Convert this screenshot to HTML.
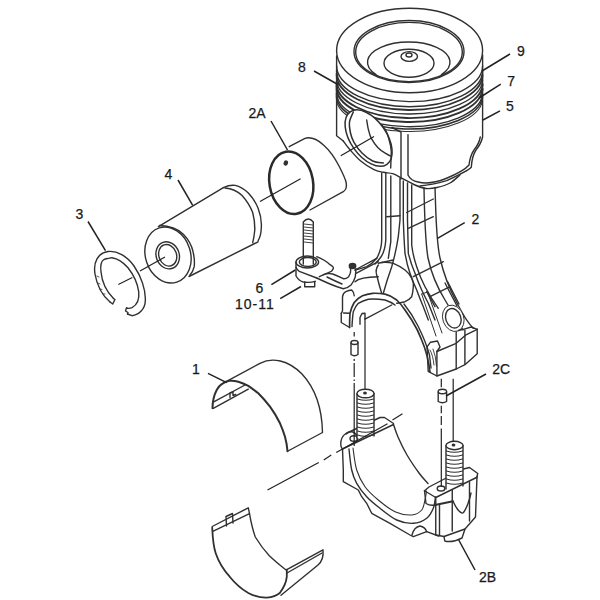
<!DOCTYPE html>
<html><head><meta charset="utf-8">
<style>
html,body{margin:0;padding:0;background:#fff;width:600px;height:600px;overflow:hidden}
svg{display:block}
text{font-family:"Liberation Sans",sans-serif;font-size:14px;fill:#1a1a1a;stroke:#1a1a1a;stroke-width:0.25px}
</style></head><body>
<svg width="600" height="600" viewBox="0 0 600 600">
<g fill="none" stroke="#303030" stroke-width="1.4" stroke-linecap="round" stroke-linejoin="round">
<!-- PISTON crown -->
<ellipse cx="409.6" cy="50.5" rx="73" ry="42.2"/>
<ellipse cx="409" cy="51.5" rx="55" ry="31"/>
<ellipse cx="409" cy="52" rx="53.3" ry="29.6"/>
<path d="M376 74.6 A41.25 20.3 0 1 1 441.5 74.6"/>
<ellipse cx="409" cy="63.3" rx="25" ry="14"/>
<ellipse cx="409.25" cy="56.5" rx="8.25" ry="4.9"/>
<ellipse cx="409" cy="55" rx="3" ry="2"/>
<!-- crown bottom + grooves -->
<path d="M336.6 65.6 A73 35.8 0 0 0 482.6 66" stroke-width="1.4"/>
<path d="M336.6 70.7 A73 36.0 0 0 0 482.6 70.7" stroke-width="1.5"/>
<path d="M336.6 74 A73 35.5 0 0 0 482.6 75" stroke-width="1.8"/>
<path d="M336.6 78 A73 35.0 0 0 0 482.6 80" stroke-width="1.3"/>
<path d="M336.6 82 A73 34.8 0 0 0 482.6 84.5" stroke-width="1.9"/>
<path d="M336.6 86 A73 34.5 0 0 0 482.6 89" stroke-width="1.9"/>
<path d="M336.6 90.7 A73 34.2 0 0 0 482.6 94.2" stroke-width="1.4"/>
<path d="M336.6 93 A73 34.0 0 0 0 482.6 97" stroke-width="1.6"/>
<path d="M336.6 96 A73 33.5 0 0 0 482.6 100" stroke-width="1.1"/>
<!-- piston sides -->
<path d="M482.6 55 V137 Q481 144 476 150 Q472 156 471.3 167.3 Q468 171 446.7 180.7 Q432 185 420 186"/>
<path d="M408 134.7 V175 Q411 181 418 182 Q430 185 446 178.5 Q464 171 469 165 Q470 156 474 150 Q479 144 480.3 137"/>
<!-- pin bore -->
<ellipse cx="368.6" cy="138.1" rx="18" ry="32" transform="rotate(-35 368.6 138.1)" stroke-width="1.5" fill="#fff"/>
<path d="M353.3 112.0 C352.7 113.7 350.0 118.5 349.5 122.0 C349.0 125.5 349.8 129.6 350.5 133.0 C351.2 136.4 352.1 139.0 354.0 142.3 C355.9 145.6 358.9 149.9 362.0 153.0 C365.1 156.1 369.1 159.3 372.7 161.0 C376.2 162.7 381.5 162.7 383.3 163.0" stroke-width="1.5"/>
<path d="M366.7 120.0 C367.0 121.7 367.7 127.0 368.5 130.0 C369.3 133.1 369.7 135.4 371.3 138.3 C372.9 141.2 375.6 145.1 378.0 147.7 C380.4 150.3 383.8 152.3 386.0 153.7 C388.2 155.1 390.4 155.9 391.3 156.3"/>
<!-- boss outline -->
<path d="M336.6 56 V135.7 L343.3 141"/>
<path d="M343.3 141.0 C344.4 142.4 347.1 146.4 350.0 149.7 C352.9 153.0 356.7 157.7 360.7 161.0 C364.7 164.3 370.2 167.8 374.0 169.7 C377.8 171.6 380.2 171.6 383.3 172.3 C386.4 173.0 389.6 172.7 392.7 173.7 C395.8 174.7 398.3 176.4 402.0 178.3 C405.7 180.2 411.0 183.3 415.0 185.0 C419.0 186.7 422.3 188.1 426.0 188.5 C429.7 188.9 433.0 188.4 437.0 187.5 C441.0 186.6 446.2 185.1 450.0 183.0 C453.8 180.9 458.3 176.3 460.0 175.0"/>
<path d="M382 125 Q387 131 388.7 138.3 Q391 146 391.3 151.7 L390.7 168"/>
<path d="M392 127.5 L401 132 V179"/>
</g>

<g stroke="#222" stroke-width="1.5">
<line x1="314" y1="71" x2="338.75" y2="85"/>
<line x1="510" y1="54" x2="482" y2="71"/>
<line x1="500.8" y1="84.2" x2="479" y2="98"/>
<line x1="500" y1="110.8" x2="483" y2="120"/>
</g>

<g fill="none" stroke="#303030" stroke-width="1.4" stroke-linecap="round" stroke-linejoin="round">
<!-- ROD SHANK -->
<path d="M381.7 173 V240 Q381.5 250 376.7 258.3 Q372 264 366.7 266.7 Q360 269 355 270"/>
<path d="M385.8 173 V240 Q385 252 380 258.3 Q377 262 375 264"/>
<path d="M390.8 176 V241.7 L388.3 258.3"/>
<path d="M378.3 263.3 L393.3 260"/>
<path d="M400 178.5 V220 Q399 230 398.3 236.7 Q396 252 391.7 266.7 Q387 280 383.3 293.3"/>
<path d="M378.3 265 Q375 270 376.7 275 Q379 285 381.7 293.3"/>
<path d="M381.7 262.5 Q388 262 393.3 263.3 Q400 266 405 270 Q410 274 411.7 278.3 Q414 283 413.3 286.7 Q413 292 411.7 296.7 Q409 300 405 301.7 Q400 303 396.7 303.3"/>
<path d="M403.3 181 V220 Q404 240 405 253.3 Q407 265 410 273.3 Q413 282 416.7 290 Q420 299 423.3 306.7 L428.3 320"/>
<path d="M407.5 183 V220 Q408 240 408.3 253.3 Q411 264 415 273.3 Q418 282 421.7 290 Q425 297 428.3 303.3 L435 320"/>
<path d="M411.7 185 V245 Q413 256 416.7 266.7 Q420 277 425 286.7 Q431 298 438.3 308.3"/>
<path d="M424 188 C424.5 215 425 240 428 258 C431 272 437 287 445 300 C451 310 457 320 463 330"/>
<path d="M435 187.5 C436 215 436 240 440 258 C444 276 450 290 457 303 C462 313 467 322 473.3 328.3"/>
<path d="M386.7 216.7 L400 215.8"/>
<path d="M406.7 212.5 L433.3 199"/>
<path d="M408.3 228.3 L433.3 216.7"/>
<path d="M413.3 276.7 L443.3 261.7"/>
<path d="M430 296.7 L450 286.7"/>
<path d="M426.7 291.7 L435 306.7"/>
<path d="M445 283 L457 306 M447.5 281.5 L459 304"/>
<path d="M421.7 294 L427.5 292 L442 333 M421.7 294 L436 336" stroke-width="1"/>
<ellipse cx="453.3" cy="318.3" rx="10.5" ry="13.5" transform="rotate(-20 453.3 318.3)" stroke-width="0.9" fill="#fff"/>
<ellipse cx="453.3" cy="318.3" rx="7.5" ry="10" transform="rotate(-20 453.3 318.3)"/>
<path d="M355 281.7 Q360 277 378.3 276.7"/>
<path d="M355 270 L376.7 258.3 M356 273.3 L378.3 261.7"/>
<!-- BIG END upper -->
<path d="M349.6 327.5 Q349.5 320 350 313.3 Q351.5 307 354.2 302.5 Q358 298 362.5 295.8 Q367 294 372.5 293.3 Q379 293 385 294.2 Q391 295.5 396.7 300 Q401 304 405 310 Q409 316 411.7 320 Q418 330 421.7 340 Q428 355 430 372" stroke-width="1.7"/>
<path d="M352 326.5 Q352.5 317 353.3 311.7 Q355.5 306 358.3 303.3 Q363 300.5 368.3 299.2 Q376 298.5 385 300 Q391 302 395 305"/>
<path d="M360 324.2 V317.5 L362 313.5 L365 313.3 V319.2 L391.7 305"/>
<path d="M341.25 313.3 V322.5 L349.6 327.5"/>
<path d="M341.25 313.3 L342.5 311 V297 Q343 293 345.8 291.7 Q349 290 351.7 290 Q354 292 354.2 295.8"/>
<path d="M343.5 313 L349.5 313.3"/>
<!-- right foot -->
<path d="M404 304 Q412 314 418 326 Q426 342 429.5 355 L431 368"/>
<path d="M436.9 351.5 V376 L456.2 369 L465.5 364.3 L477.2 353.8 V329.3"/>
<path d="M436.9 351.5 L456.2 343.3 L465.5 335.2 L477.2 329.3"/>
<path d="M456.2 332 V369 M464.9 330 V364.3"/>
<path d="M458.5 330.5 L463.2 329.3 L471.3 327 L477.2 329.3"/>
<path d="M427 346.8 L428.2 371.3 L436.9 376"/>
<path d="M427 346.8 L430.5 342.2 L437.5 341 L440 347 L436.9 351.5"/>
<path d="M430 350 Q433 355 434 365 M433 349 Q436 356 436.5 366" stroke-width="0.9"/>
<!-- dowels -->
<path d="M351 343 V354.5 Q354.5 357 358 354.5 V343"/><ellipse cx="354.5" cy="342.5" rx="3.5" ry="2"/>
<path d="M438.2 392 V401.5 Q442.4 404 446.6 401.5 V392"/><ellipse cx="442.4" cy="391.5" rx="4.2" ry="2.2"/>
<!-- CAP -->
<path d="M342.5 449 Q340 446 341 441 Q342 436 346 433.5 L380 417.5 L384.5 417.5 L393.5 423.5"/>
<path d="M346 434 Q349 431 353 432 Q357 434 358 438"/>
<ellipse cx="353.8" cy="438.5" rx="3.8" ry="2.8"/>
<path d="M342.5 449 L343.3 470 L343.3 481.7 L358.3 490 L361.7 496.7 L366.7 503.3 L371.7 513.3 L390 523.3 L410 535 L413.3 536.7 L426.7 531.7 L438.5 536"/>
<path d="M349.0 449.0 C349.4 452.5 350.4 464.3 351.7 470.0 C353.0 475.7 354.2 478.9 356.7 483.3 C359.2 487.8 362.8 492.5 366.7 496.7 C370.6 500.9 375.0 504.4 380.0 508.3 C385.0 512.2 391.1 517.5 396.7 520.0 C402.2 522.5 408.3 523.6 413.3 523.3 C418.3 523.0 423.4 520.8 426.7 518.3 C430.0 515.8 431.8 511.9 433.3 508.3 C434.8 504.8 435.1 498.9 435.5 497.0"/>
<path d="M353.0 448.0 C353.6 451.7 354.7 463.6 356.7 470.0 C358.7 476.4 361.4 481.7 365.0 486.7 C368.6 491.7 373.3 495.8 378.3 500.0 C383.3 504.2 389.4 509.2 395.0 511.7 C400.6 514.2 407.2 515.3 411.7 515.0 C416.1 514.7 419.5 512.5 421.7 510.0 C423.9 507.5 424.2 503.2 425.0 500.0 C425.8 496.8 426.2 492.5 426.5 491.0" stroke-width="1.1"/>
<path d="M393.5 424.5 C394.2 426.6 395.8 431.9 398.0 437.0 C400.2 442.1 403.5 449.0 407.0 455.0 C410.5 461.0 415.5 468.2 419.0 473.0 C422.5 477.8 426.5 481.8 428.0 483.5"/>
<path d="M412 535 Q414 527 420 526 Q425 527 426.7 531.7"/>
<path d="M424.5 490.75 L429 487 L463.5 469 L469.5 467.5 L477.75 473.5 L477 476.5"/>
<ellipse cx="441" cy="488.5" rx="3.8" ry="2.5"/>
<path d="M424.5 490.75 L435.75 497.5 V535 L444 536.5 L465 529 L475.5 517 L477 476.5"/>
<path d="M435 505 L453 501.25" stroke-width="1.8"/>
<path d="M453 501.25 Q456 508 459 511 Q462 514 463.5 512.5 Q466 509 468 503.5 Q470 498 471 493"/>
<path d="M452.25 490 V531 M439.5 505 V535.5 M469.5 482 V521"/>
<path d="M424.5 490.75 L426 503.5 Q430 506 435 505"/>
<path d="M444 536.5 L444.75 541 Q452 543 462 538 L465 529"/>
<!-- bolts -->
<path d="M357 393.5 V438 Q365.5 441 374 436 V393.5 Z" fill="#fff" stroke="none"/>
<path d="M357 439 V393.5 M374 393.5 V436"/>
<ellipse cx="365.5" cy="393.5" rx="8.5" ry="4.3" fill="#fff"/>
<ellipse cx="365" cy="393" rx="1.2" ry="0.8" fill="#333"/>
<path d="M357.5 399 Q365.5 401.5 373.5 399 M357.5 403 Q365.5 405.5 373.5 403 M357.5 407 Q365.5 409.5 373.5 407 M357.5 411 Q365.5 413.5 373.5 411 M357.5 415 Q365.5 417.5 373.5 415 M357.5 419 Q365.5 421.5 373.5 419 M357.5 423 Q365.5 425.5 373.5 423 M357.5 427 Q365.5 429.5 373.5 427 M357.5 431 Q365.5 433.5 373.5 431 M357.5 435 Q365.5 437.5 373.5 435" stroke-width="1.2"/>
<path d="M446 445.5 V489 Q454.5 491 463 486 V445.5 Z" fill="#fff" stroke="none"/>
<path d="M446 489 V445.5 M463 445.5 V486"/>
<ellipse cx="454.5" cy="445.5" rx="8.5" ry="4.2" fill="#fff"/>
<ellipse cx="453.5" cy="445" rx="1.2" ry="0.8" fill="#333"/>
<path d="M446.5 451 Q454.5 453.5 462.5 451 M446.5 455 Q454.5 457.5 462.5 455 M446.5 459 Q454.5 461.5 462.5 459 M446.5 463 Q454.5 465.5 462.5 463 M446.5 467 Q454.5 469.5 462.5 467 M446.5 471 Q454.5 473.5 462.5 471 M446.5 475 Q454.5 477.5 462.5 475 M446.5 479 Q454.5 481.5 462.5 479 M446.5 483 Q454.5 485.5 462.5 483" stroke-width="1.2"/>
<path d="M342.5 449 L393.5 424.5"/>
<path d="M435.75 497.5 L477 477.25"/>
<!-- BUSHING 2A -->
<ellipse cx="291.25" cy="182.8" rx="21.8" ry="31.5" transform="rotate(-10 291.25 182.8)" stroke-width="2.5" stroke="#2a2a2a"/>

<path d="M289.2 146.7 L305 138.3 C317 135 331 150 339 166 C345 178 350 187 343.3 191.7 L310 210"/>
<ellipse cx="285.8" cy="163" rx="1.5" ry="2" fill="#333" transform="rotate(20 285.8 163)"/>
<!-- PIN 4 -->
<ellipse cx="168" cy="255" rx="22.5" ry="28.5" transform="rotate(-18 168 255)"/>
<path d="M159.5 225.5 Q175 226 183.3 234.2 Q191 242 193 251.5 Q195 260 194.2 266.7 Q193 272 189.8 275.3"/>
<ellipse cx="167.7" cy="255.3" rx="11.5" ry="13.8" transform="rotate(-20 167.7 255.3)"/>
<ellipse cx="167.7" cy="255.3" rx="8.8" ry="11" transform="rotate(-20 167.7 255.3)"/>
<path d="M158.4 226.6 L223.4 187.6"/>
<path d="M189 276.5 L258.1 241.8"/>
<path d="M223.4 187.6 Q230 184.5 235.3 185.4 Q242 187 248.3 193 Q255 200 258.1 208.2 Q262 218 261.3 227.7 Q261 236 258.1 240.7"/>
<path d="M225 188 Q235 189 241.8 195.2 Q249 203 252.7 212.5 Q255 221 254.8 229.8 Q254 238 252.7 242.8"/>
<!-- SNAP RING 3 -->
<path d="M110 302 C103 296 97 286 95 274 C93 262 98 253 108 251.5 C117 250.5 127 256 134 266 C141 276 146 290 145.3 301 C145 309 139 315 132 315.7 L127.5 314"/>
<path d="M113.5 298.5 C107 292 102 282 101 272 C100 264 101.5 261 104 259.5 L107 258.5 C109 259 110 257.5 112 257.7 C117 258.5 123 262 128 267.7 C133 274 137.5 283 138.7 291.7 C139.5 299 137 305 132 307.7 C130 308.5 128 308.5 126.5 308"/>
<path d="M110 302 L112.7 304 L115 299.5 L113.5 298.5"/>
<path d="M126.5 308 L125.5 311 L128 312.5 L127.5 314"/>
<path d="M97 276 l2 1 M98 283 l2 1 M100 289 l2 0.5 M103 294 l2 0" stroke-width="0.8"/>
<!-- NOZZLE 6 -->
<path d="M303.3 264 V222 Q308.3 216 313.3 222 V264"/>
<path d="M304 224 l9 1 M304 227 l9 1 M304 230 l9 1 M304 233 l9 1 M304 236 l9 1 M304 239 l9 1 M304 242 l9 1" stroke-width="1" stroke="#444"/>
<ellipse cx="307.3" cy="262" rx="11.3" ry="6"/>
<ellipse cx="307.8" cy="262" rx="8.5" ry="4.5"/>
<path d="M316.7 256.7 Q325 260 330 264.7 Q334 267 333.3 268.7 Q332 271 331.3 271.3 L319.3 276.7"/>
<path d="M296 267.3 Q297 270 299.3 271.3 L316.7 278"/>
<path d="M296 262 V276 Q299 281 303.3 282 Q310 283 315.3 281.3"/>
<path d="M304.7 282 V286.7 H314.7 V281.5"/>
<path d="M323.3 274.7 Q328 273 332.7 274 Q338 276 343.3 278.7 Q346 279 348.7 276.7 Q351 273 350.7 270 L350 266"/>
<path d="M316.7 278 Q323 281 330 284 Q337 287 343.3 288.7 Q348 288 351.3 284.7 Q354 281 355.3 276.7 L356 268.7"/>
<path d="M327 277 Q335 281 342 284"/>
<ellipse cx="352.5" cy="266" rx="3.2" ry="2.5" fill="#333"/>
<!-- BEARING upper 1 -->
<path d="M212.5 408.3 Q212.5 398 216.7 390 Q219 386 221.7 384.2 Q225 381.5 229.2 380.8 Q234 380.5 238.3 381.7 Q243 383 248.3 385.8 Q253 389 258.3 393.3 Q264 399 270 406.7 Q276 415 280 423.3 Q283 430 285 436.7 Q287 444 287.5 451.25" stroke-width="2"/>
<path d="M227.5 380.8 L260 363.3 C272 357 288 360 302 374 C315 388 322 408 322.5 432.5 L287.5 451.25"/>
<path d="M214.2 401.7 L245 385 M213.3 408.3 L248.3 389.2"/>
<path d="M230 397.5 V393 L233 392 V395.5 L235.8 394.5"/>
<!-- BEARING lower -->
<path d="M212.2 526.5 L248.3 507.8 L249.5 513.7 L213.3 531.2"/>
<path d="M226.5 526 L226 516.5 L232.5 513.5 L233 523"/>
<path d="M249.5 513.7 Q252 528 255.3 537 Q262 548 269.3 555.7 Q277 563 285.7 569.7"/>
<path d="M212.2 527.7 Q213 545 215.7 553.3 Q220 566 229.7 576.7 Q238 587 248.3 593 Q258 598 267 597.7 Q275 597 279.8 593 Q286 585 286.8 576.7 L286.8 569.7" stroke-width="1.8"/>
<path d="M286.8 569.7 L323 549.8 Q324 560 318 565 L281 595.3"/>
<path d="M287 573 L322 553"/>
</g>
<!-- dash center lines -->
<g fill="none" stroke="#222" stroke-width="1.2">
<path d="M118.3 284.5 L132.3 277.5"/>
<path d="M140 271 L165 257"/>
<path d="M260 201.5 L300.6 178.75"/>
<path d="M340.8 155.8 L374 136.5"/>
<path d="M267.5 490 L318.75 462.5 M323.75 460 L331.25 455 M336.25 452.5 L387.5 423.75 M392.5 420 L402.5 413.75"/>
<path d="M354.2 332 V336.5 M354.2 359 V361 M354.2 363 V377 M354.2 379.5 V381 M354.2 383 V446"/>
<path d="M365 318 V389"/>
<path d="M441.3 378.7 V387.3 M441.3 405.8 V413.3 M441.3 416 V425 M441.3 428.5 V487"/>
<path d="M453.2 378.7 V441.5"/>
</g>

<g stroke="#222" stroke-width="1.5">
<line x1="271" y1="121" x2="287.5" y2="150"/>
<line x1="178" y1="180" x2="192.7" y2="205.3"/>
<line x1="88" y1="221.5" x2="105.5" y2="250.7"/>
<line x1="271.4" y1="284.6" x2="295.3" y2="270"/>
<line x1="280.2" y1="298.6" x2="301" y2="286.5"/>
<line x1="464.7" y1="222.7" x2="437.5" y2="238.3"/>
<line x1="486" y1="374" x2="446" y2="396"/>
<line x1="208" y1="373.3" x2="226.7" y2="382.7"/>
<line x1="475" y1="570" x2="458.75" y2="540"/>
</g>
<g class="lab">
<text x="516.9" y="56.0">9</text>
<text x="507.2" y="86.0">7</text>
<text x="506.0" y="111.2">5</text>
<text x="298.0" y="71.8">8</text>
<text x="248.4" y="117.7">2A</text>
<text x="164.5" y="178.6">4</text>
<text x="75.6" y="219.2">3</text>
<text x="255.5" y="293.1">6</text>
<text x="471.5" y="223.7">2</text>
<text x="192.0" y="373.5">1</text>
<text x="492.2" y="374.0">2C</text>
<text x="478.9" y="582.0">2B</text>
<text x="235" y="308.9" letter-spacing="1">10-11</text>
</g>
</svg>
</body></html>
